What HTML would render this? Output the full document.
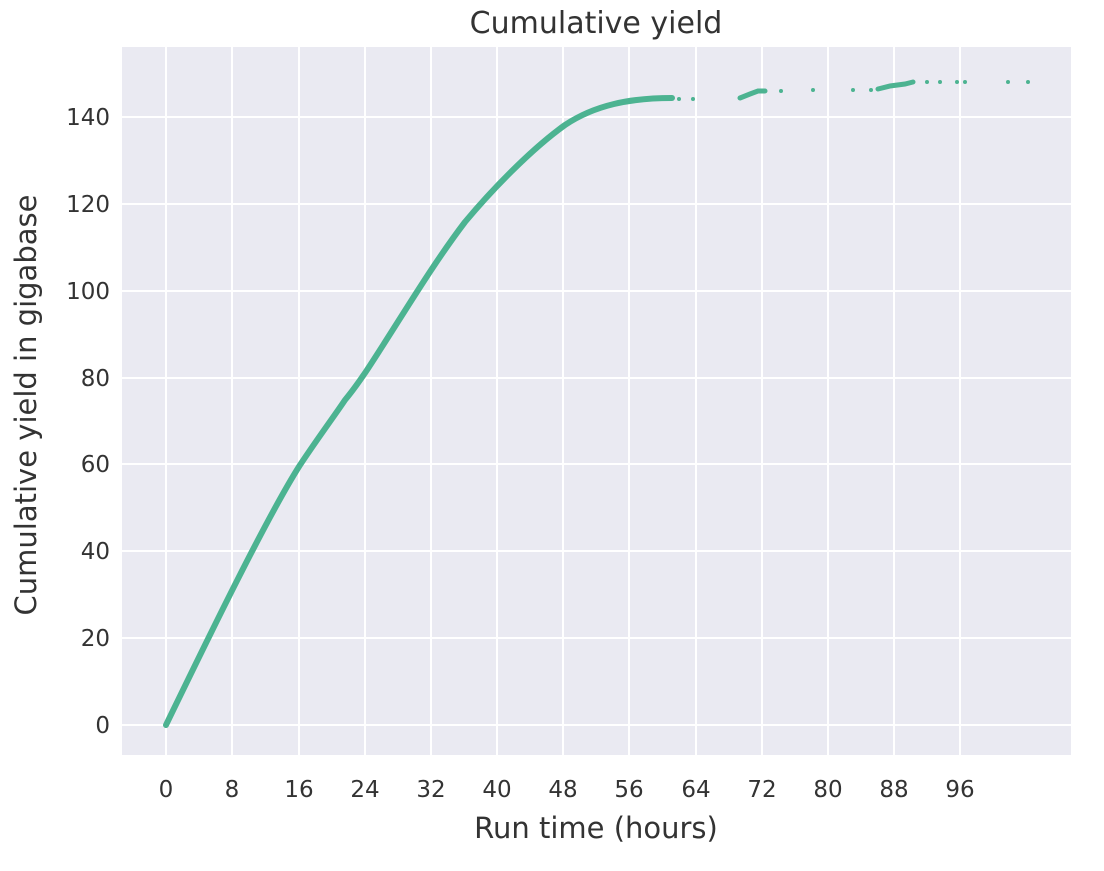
<!DOCTYPE html>
<html><head><style>body{margin:0;background:#fff}svg text{font-family:"DejaVu Sans","Liberation Sans",sans-serif;fill:#333}</style></head>
<body>
<svg width="1104" height="866" xmlns="http://www.w3.org/2000/svg">
<rect x="122" y="47" width="949" height="708" fill="#eaeaf2"/>
<g stroke="#fff" stroke-width="2">
<line x1="166" y1="47" x2="166" y2="755"/><line x1="232" y1="47" x2="232" y2="755"/><line x1="299" y1="47" x2="299" y2="755"/><line x1="365" y1="47" x2="365" y2="755"/><line x1="431" y1="47" x2="431" y2="755"/><line x1="497" y1="47" x2="497" y2="755"/><line x1="563" y1="47" x2="563" y2="755"/><line x1="629" y1="47" x2="629" y2="755"/><line x1="696" y1="47" x2="696" y2="755"/><line x1="762" y1="47" x2="762" y2="755"/><line x1="828" y1="47" x2="828" y2="755"/><line x1="894" y1="47" x2="894" y2="755"/><line x1="960" y1="47" x2="960" y2="755"/>
<line x1="122" y1="725" x2="1071" y2="725"/><line x1="122" y1="638" x2="1071" y2="638"/><line x1="122" y1="551" x2="1071" y2="551"/><line x1="122" y1="464" x2="1071" y2="464"/><line x1="122" y1="378" x2="1071" y2="378"/><line x1="122" y1="291" x2="1071" y2="291"/><line x1="122" y1="204" x2="1071" y2="204"/><line x1="122" y1="117" x2="1071" y2="117"/>
</g>
<path d="M166,725 C200,655 265,520 300,465 C320,435 335,415 345,400 C355,388 360,380 365,373 C400,320 430,268 465,222 C490,192 530,150 565,125 C595,105 630,98 672,98" fill="none" stroke="#4cb391" stroke-width="6" stroke-linecap="round"/>
<path d="M740,98 L750,94 L758,91 L765,91" fill="none" stroke="#4cb391" stroke-width="5" stroke-linecap="round"/>
<path d="M878,89 L890,86 L905,84 L913,82" fill="none" stroke="#4cb391" stroke-width="5" stroke-linecap="round"/>
<g fill="#4cb391"><circle cx="679" cy="99" r="2"/><circle cx="693" cy="99" r="2"/><circle cx="781" cy="91" r="2"/><circle cx="813" cy="90" r="2"/><circle cx="853" cy="90" r="2"/><circle cx="871" cy="90" r="2"/><circle cx="927" cy="82" r="2"/><circle cx="940" cy="82" r="2"/><circle cx="957" cy="82" r="2"/><circle cx="965" cy="82" r="2"/><circle cx="1008" cy="82" r="2"/><circle cx="1028" cy="82" r="2"/></g>
<g font-size="23" text-anchor="middle">
<text x="166" y="797">0</text><text x="232" y="797">8</text><text x="299" y="797">16</text><text x="365" y="797">24</text><text x="431" y="797">32</text><text x="497" y="797">40</text><text x="563" y="797">48</text><text x="629" y="797">56</text><text x="696" y="797">64</text><text x="762" y="797">72</text><text x="828" y="797">80</text><text x="894" y="797">88</text><text x="960" y="797">96</text>
</g>
<g font-size="23" text-anchor="end">
<text x="110" y="733">0</text><text x="110" y="646">20</text><text x="110" y="559">40</text><text x="110" y="472">60</text><text x="110" y="386">80</text><text x="110" y="299">100</text><text x="110" y="212">120</text><text x="110" y="125">140</text>
</g>
<text x="596" y="838" font-size="29" text-anchor="middle">Run time (hours)</text>
<text x="596" y="33" font-size="30" text-anchor="middle">Cumulative yield</text>
<text transform="translate(36,405) rotate(-90)" font-size="29" text-anchor="middle">Cumulative yield in gigabase</text>
</svg>
</body></html>
